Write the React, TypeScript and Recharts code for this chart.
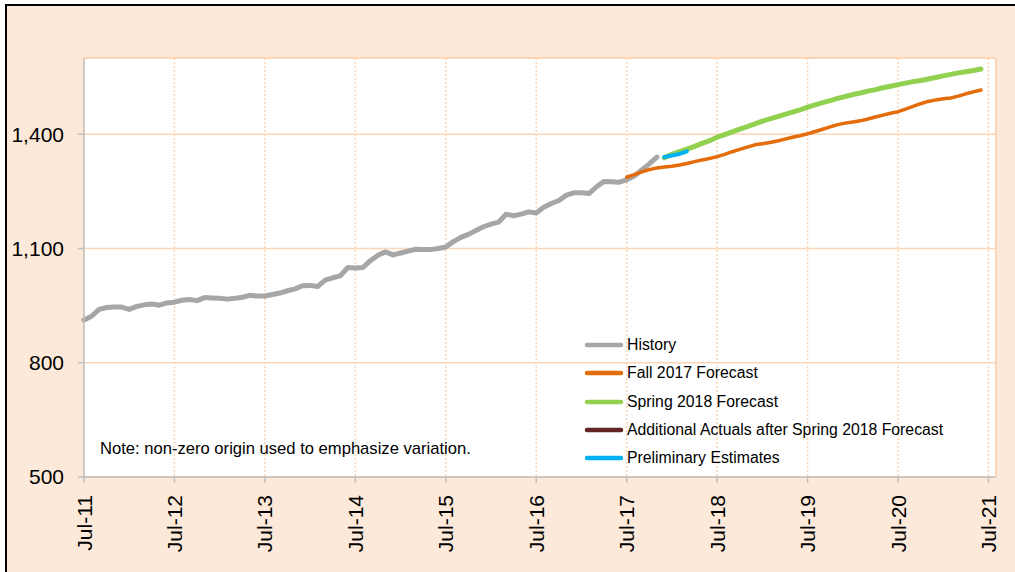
import React from 'react';
import {
  LineChart,
  Line,
  XAxis,
  YAxis,
  CartesianGrid,
  ReferenceLine,
  Legend
} from 'recharts';

// month index 0 = Jul-11
const xTickMonths = [0, 12, 24, 36, 48, 60, 72, 84, 96, 108, 120];
const xTickLabels = ['Jul-11', 'Jul-12', 'Jul-13', 'Jul-14', 'Jul-15', 'Jul-16', 'Jul-17', 'Jul-18', 'Jul-19', 'Jul-20', 'Jul-21'];
const yTicks = [500, 800, 1100, 1400];

const historyStart = 0;
const historyValues = [
  912, 922, 940, 945, 946, 946, 940, 948, 952, 954, 951, 957,
  959, 964, 966, 963, 971, 970, 969, 967, 969, 972, 977, 975,
  975, 979, 983, 989, 994, 1002, 1003, 1000, 1017, 1023, 1028, 1050,
  1049, 1050, 1068, 1082, 1091, 1083, 1088, 1093, 1098, 1097, 1097, 1100,
  1104, 1118, 1129, 1137, 1147, 1157, 1164, 1169, 1190, 1186, 1190, 1196,
  1193, 1208, 1218, 1226, 1240, 1246, 1246, 1244, 1262, 1276, 1275, 1274,
  1280, 1290, 1306, 1322, 1340
];

const fall2017Start = 72;
const fall2017Values = [
  1287, 1294, 1301, 1307, 1311, 1314, 1316, 1319, 1323, 1328, 1332, 1336,
  1341, 1347, 1354, 1360, 1366, 1372, 1375, 1378, 1382, 1387, 1392, 1396,
  1401, 1407, 1413, 1419, 1425, 1429, 1432, 1435, 1440, 1445, 1450, 1455,
  1459, 1466, 1473, 1480, 1486, 1490, 1493, 1495, 1500, 1506, 1511, 1516
];

const spring2018Start = 77;
const spring2018Values = [
  1338, 1347, 1354, 1361, 1368, 1376, 1383,
  1392, 1399, 1406, 1413, 1420, 1427, 1434, 1440, 1446, 1452, 1458, 1464,
  1471, 1477, 1483, 1488, 1494, 1499, 1504, 1508, 1513, 1517, 1522, 1526,
  1530, 1534, 1538, 1541, 1545, 1549, 1553, 1557, 1561, 1564, 1567, 1571
];

const additionalStart = 77;
const additionalValues: number[] = [];

const preliminaryStart = 77;
const preliminaryValues = [1340, 1344, 1348, 1355];

const series = [
  { key: 'history', name: 'History', color: '#A6A6A6', width: 5, start: historyStart, values: historyValues },
  { key: 'fall', name: 'Fall 2017 Forecast', color: '#E46C0A', width: 3.5, start: fall2017Start, values: fall2017Values },
  { key: 'spring', name: 'Spring 2018 Forecast', color: '#92D050', width: 5, start: spring2018Start, values: spring2018Values },
  { key: 'additional', name: 'Additional Actuals after Spring 2018 Forecast', color: '#632523', width: 4, start: additionalStart, values: additionalValues },
  { key: 'prelim', name: 'Preliminary Estimates', color: '#00B0F0', width: 4, start: preliminaryStart, values: preliminaryValues }
];

const rows = (() => {
  const out: any[] = [];
  for (let m = 0; m <= 121; m++) {
    const row: any = { m };
    series.forEach(s => {
      const v = s.values[m - s.start];
      row[s.key] = v === undefined ? null : v;
    });
    out.push(row);
  }
  return out;
})();

const FONT = '"Liberation Sans", Arial, sans-serif';
const GRID = '#FBD5B5';

const XTick = (props: any) => {
  const { x, y, payload } = props;
  const label = xTickLabels[xTickMonths.indexOf(payload.value)];
  return (
    <g transform={`translate(${x},${y + 10}) rotate(-90)`}>
      <text textAnchor="end" dy="0.36em" fontSize={21} fill="#000" fontFamily={FONT}>{label}</text>
    </g>
  );
};

const LegendBox = () => (
  <div style={{ fontFamily: FONT, fontSize: 15.8, color: '#000' }}>
    {series.map(s => (
      <div key={s.key} style={{ display: 'flex', alignItems: 'center', height: 28.25 }}>
        <svg width={44} height={10} style={{ display: 'block' }}>
          <line x1={4} x2={38} y1={5} y2={5} stroke={s.color} strokeWidth={4.5} strokeLinecap="round" />
        </svg>
        <span style={{ whiteSpace: 'nowrap' }}>{s.name}</span>
      </div>
    ))}
  </div>
);

export default function App() {
  return (
    <div style={{ position: 'absolute', left: 0, top: 0, width: 1015, height: 572, background: '#fff', overflow: 'hidden' }}>
      <div style={{ position: 'absolute', left: 5, top: 4, width: 1100, height: 700, borderLeft: '2px solid #000', borderTop: '2px solid #000', background: '#FDE9D9' }} />
      <div style={{ position: 'absolute', left: 0, top: 0 }}>
        <LineChart width={1015} height={572} data={rows} margin={{ top: 58, right: 19, left: 0, bottom: 0 }}>
          <CartesianGrid fill="#fff" stroke={GRID} strokeWidth={1.5} vertical={false} />
          <CartesianGrid stroke={GRID} strokeDasharray="2 2" strokeWidth={1.5} horizontal={false} />
          <ReferenceLine y={1600} stroke={GRID} strokeWidth={2} />
          <ReferenceLine x={121} stroke={GRID} strokeWidth={2} />
          <XAxis
            dataKey="m"
            type="number"
            domain={[0, 121]}
            ticks={xTickMonths}
            interval={0}
            height={95}
            tick={<XTick />}
            tickSize={6}
            stroke="#BFBFBF"
            strokeWidth={1.5}
          />
          <YAxis
            domain={[500, 1600]}
            ticks={yTicks}
            width={84}
            tickSize={6}
            tickMargin={14}
            tickFormatter={(v: number) => v.toLocaleString('en-US')}
            tick={{ fontSize: 21, fill: '#000', fontFamily: FONT }}
            stroke="#BFBFBF"
            strokeWidth={1.5}
            allowDataOverflow
          />
          {series.map(s => (
            <Line
              key={s.key}
              dataKey={s.key}
              name={s.name}
              stroke={s.color}
              strokeWidth={s.width}
              strokeLinecap="round"
              strokeLinejoin="round"
              dot={false}
              activeDot={false}
              connectNulls={false}
              isAnimationActive={false}
            />
          ))}
          <Legend
            layout="vertical"
            align="center"
            verticalAlign="middle"
            content={<LegendBox />}
            wrapperStyle={{ left: 583, top: 331, width: 400 }}
          />
        </LineChart>
        <div style={{ position: 'absolute', left: 100, top: 439, fontFamily: FONT, fontSize: 16.6, color: '#000', whiteSpace: 'nowrap' }}>
          Note: non-zero origin used to emphasize variation.
        </div>
      </div>
    </div>
  );
}
